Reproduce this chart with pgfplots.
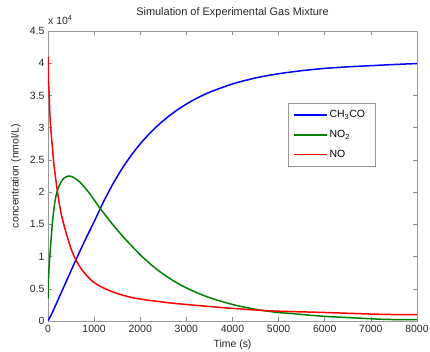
\documentclass[border=0pt]{standalone}
\usepackage{fontspec}
\setmainfont{Liberation Sans}
\usepackage{pgfplots}
\pgfplotsset{compat=1.18}
\pgfplotsset{legend image code/.code={\draw[mark repeat=2,mark phase=2,#1] plot coordinates {(0cm,0cm) (0.582cm,0cm) (1.164cm,0cm)};}}
\definecolor{mblue}{RGB}{0,0,255}
\definecolor{mgreen}{RGB}{0,128,0}
\definecolor{mred}{RGB}{255,0,0}
\begin{document}
\begin{tikzpicture}
\begin{axis}[
  scale only axis,
  width=369bp, height=290bp,
  xmin=0, xmax=8000, ymin=0, ymax=45000,
  clip mode=individual,
  xtick={0,1000,...,8000},
  ytick={0,5000,10000,15000,20000,25000,30000,35000,40000,45000},
  yticklabels={0,0.5,1,1.5,2,2.5,3,3.5,4,4.5},
  scaled x ticks=false, scaled y ticks=false,
  /pgf/number format/assume math mode=true,
  /pgf/number format/1000 sep={},
  tick align=inside,
  major tick length=4bp,
  tick style={color=black!45, line width=0.5pt},
  axis line style={color=black!40, line width=0.6pt},
  ticklabel style={font=\fontsize{10.5}{12}\selectfont, text=black!85},
  xticklabel style={yshift=-1bp},
  title={Simulation of Experimental Gas Mixture},
  title style={at={(axis description cs:0.5,1)}, anchor=base, yshift=10bp, inner sep=0pt, font=\fontsize{11}{13}\selectfont, text=black!85},
  xlabel={Time (s)},
  xlabel style={at={(axis description cs:0.5,-0.083)}, anchor=center, font=\fontsize{10.5}{12}\selectfont, text=black!85},
  ylabel={concentration (nmol/L)},
  ylabel style={at={(axis description cs:-0.087,0.5)}, anchor=center, rotate=0, font=\fontsize{10.5}{12}\selectfont, text=black!85},
  legend style={at={(rel axis cs:0.65,0.752)}, anchor=north west, draw=black!40, line width=0.5pt,
    font=\fontsize{10.5}{12}\selectfont, inner xsep=5bp, inner ysep=5.5bp, row sep=7bp, cells={anchor=west}},
]
\addplot[mblue, line width=1.5pt, smooth, tension=0.4] coordinates {
(0,0) (100,1400) (200,3000) (400,6200) (600,9400) (800,12500) (1000,15400) (1128,17360)
(1200,18450) (1400,21180) (1600,23580) (1800,25670) (2000,27490) (2200,29080)
(2400,30470) (2600,31680) (2800,32740) (3000,33660) (3200,34470) (3500,35490)
(4000,36790) (4500,37720) (5000,38370) (5500,38840) (6000,39200) (6500,39440)
(7000,39620) (7500,39800) (8000,39950)
};
\addlegendentry{CH\textsubscript{3}CO\textsuperscript{\textperiodcentered}}
\addplot[mgreen, line width=1.5pt, smooth, tension=0.4] coordinates {
(0,3500) (10,6500) (30,9000) (60,12000) (95,15200) (130,17500) (170,19300) (220,20600)
(280,21500) (350,22200) (450,22500) (550,22300) (700,21500) (900,19800) (1128,17500)
(1400,15000) (1650,12900) (2000,10280) (2200,8950) (2400,7790) (2600,6780) (2800,5900)
(3000,5135) (3300,4170) (3600,3385) (4000,2563) (4200,2232) (4600,1690) (5000,1300)
(5250,1180) (5600,950) (6000,720) (6700,460) (7300,250) (8000,200)
};
\addlegendentry{NO\textsubscript{2}}
\addplot[mred, line width=1.5pt, smooth, tension=0.4] coordinates {
(0,41000) (8,37500) (20,36000) (43,31700) (70,29000) (95,27000) (130,24200) (170,21900)
(204,20100) (250,18000) (300,16200) (384,13900) (490,11400) (601,9500) (750,7800)
(926,6400) (1100,5500) (1288,4850) (1550,4150) (1866,3560) (2200,3200) (2662,2790)
(3167,2450) (3500,2250) (3892,2010) (4300,1800) (4614,1650) (5000,1520) (5500,1420)
(6000,1320) (6500,1200) (7000,1080) (7500,1000) (8000,980)
};
\addlegendentry{NO}
\node[anchor=base west, inner sep=0pt, font=\fontsize{10.5}{12}\selectfont, text=black!85] at (rel axis cs:0,1) [yshift=7bp] {x 10\textsuperscript{4}};
\end{axis}
\pgfresetboundingbox
\path[use as bounding box] (-48bp,-31bp) rectangle (382bp,321bp);
\end{tikzpicture}
\end{document}
